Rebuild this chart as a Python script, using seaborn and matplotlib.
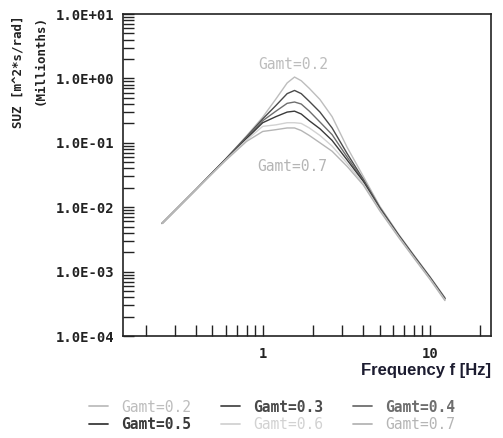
import numpy as np
import pandas as pd
import seaborn as sns
import matplotlib
matplotlib.use("Agg")
import matplotlib.pyplot as plt
from matplotlib.ticker import LogLocator, FuncFormatter, NullFormatter

# Frequency grid [Hz]
freq = [0.25, 0.4, 0.6, 0.8, 1.0, 1.2, 1.4, 1.55, 1.7, 1.9, 2.2, 2.6,
        3.2, 4.0, 5.0, 6.5, 8.0, 10.0, 12.3]

# Spectral density SUZ [m^2*s/rad] (millionths) for each damping value
suz_g02 = [0.0056, 0.019, 0.056, 0.128, 0.25, 0.48, 0.85, 1.05, 0.92, 0.70,
           0.47, 0.255, 0.085, 0.030, 0.0105, 0.0038, 0.00182, 8.4e-4, 3.95e-4]
suz_g03 = [0.0056, 0.019, 0.056, 0.124, 0.235, 0.38, 0.58, 0.65, 0.58, 0.44,
           0.30, 0.17, 0.068, 0.027, 0.0100, 0.0037, 0.00178, 8.2e-4, 3.85e-4]
suz_g04 = [0.0056, 0.019, 0.055, 0.120, 0.22, 0.31, 0.41, 0.43, 0.40, 0.31,
           0.21, 0.134, 0.060, 0.026, 0.0098, 0.0036, 0.00174, 8.1e-4, 3.8e-4]
suz_g05 = [0.0056, 0.019, 0.055, 0.116, 0.205, 0.255, 0.30, 0.31, 0.28, 0.22,
           0.165, 0.109, 0.054, 0.025, 0.0096, 0.0036, 0.00172, 8.0e-4, 3.75e-4]
suz_g06 = [0.0056, 0.019, 0.054, 0.110, 0.18, 0.19, 0.205, 0.205, 0.20, 0.17,
           0.13, 0.089, 0.048, 0.023, 0.0092, 0.0035, 0.00168, 7.8e-4, 3.65e-4]
suz_g07 = [0.0056, 0.019, 0.053, 0.105, 0.15, 0.16, 0.17, 0.17, 0.155, 0.13,
           0.10, 0.074, 0.043, 0.022, 0.0089, 0.0034, 0.00164, 7.6e-4, 3.55e-4]

series_names = ["Gamt=0.2", "Gamt=0.3", "Gamt=0.4", "Gamt=0.5", "Gamt=0.6", "Gamt=0.7"]
series_values = [suz_g02, suz_g03, suz_g04, suz_g05, suz_g06, suz_g07]

y_ticks = [1e-4, 1e-3, 1e-2, 1e-1, 1e0, 1e1]
x_tick_labels = {1.0: "1", 10.0: "10"}

colors = {
    "Gamt=0.2": "#bdbdbd",
    "Gamt=0.3": "#4a4a4a",
    "Gamt=0.4": "#6e6e6e",
    "Gamt=0.5": "#3a3a3a",
    "Gamt=0.6": "#d2d2d2",
    "Gamt=0.7": "#b5b5b5",
}
bold_entries = {"Gamt=0.3", "Gamt=0.5", "Gamt=0.4"}

df = pd.concat(
    [pd.DataFrame({"f": freq, "suz": vals, "series": name})
     for name, vals in zip(series_names, series_values)],
    ignore_index=True,
)

sns.set_style("white")
mono = ["DejaVu Sans Mono"]

fig = plt.figure(figsize=(5.03, 4.38), dpi=100)
ax = fig.add_axes([123 / 503, 1 - 336 / 438, (491 - 123) / 503, (336 - 14) / 438])

sns.lineplot(data=df, x="f", y="suz", hue="series", hue_order=series_names,
             palette=colors, linewidth=1.0, ax=ax, legend=False, sort=False)

ax.set_xscale("log")
ax.set_yscale("log")
ax.set_xlim(0.146, 23.2)
ax.set_ylim(1e-4, 1e1)

for s in ax.spines.values():
    s.set_color("#222222")
    s.set_linewidth(1.2)

ax.yaxis.set_minor_locator(LogLocator(base=10, subs=np.arange(2, 10), numticks=20))
ax.set_yticks(y_ticks)
ax.yaxis.set_major_formatter(FuncFormatter(lambda v, p: f"{v:.1E}"))
ax.yaxis.set_minor_formatter(NullFormatter())

ax.xaxis.set_major_locator(LogLocator(base=10, numticks=10))
ax.xaxis.set_minor_locator(LogLocator(base=10, subs=np.arange(2, 10), numticks=20))
ax.xaxis.set_major_formatter(FuncFormatter(lambda v, p: x_tick_labels.get(round(v, 6), "")))
ax.xaxis.set_minor_formatter(NullFormatter())

ax.tick_params(axis="both", which="both", direction="in", length=8, width=1.0,
               color="#222222", left=True, bottom=True, right=False, top=False)
ax.tick_params(axis="y", which="major", pad=6)
ax.tick_params(axis="x", which="major", pad=8)

for lab in ax.get_yticklabels() + ax.get_xticklabels():
    lab.set_family(mono)
    lab.set_fontweight("bold")
    lab.set_fontsize(10)
    lab.set_color("#222222")

ax.set_xlabel("")
ax.set_ylabel("")

# Axis titles
fig.text(18 / 503, 1 - 72 / 438, "SUZ [m^2*s/rad]", rotation=90, ha="center", va="center",
         family=mono, fontsize=9, fontweight="bold", color="#222222")
fig.text(40 / 503, 1 - 60 / 438, "(Millionths)", rotation=90, ha="center", va="center",
         family=mono, fontsize=9, fontweight="bold", color="#222222")
fig.text(491 / 503, 1 - 370 / 438, "Frequency f [Hz]", ha="right", va="center",
         family=["Liberation Sans", "DejaVu Sans"], fontweight="bold", fontsize=12,
         color="#1c1c30")

# Curve annotations
ax.text(1.52, 1.62, "Gamt=0.2", ha="center", va="center", family=mono,
        fontsize=10.5, color="#bdbdbd")
ax.text(1.50, 0.043, "Gamt=0.7", ha="center", va="center", family=mono,
        fontsize=10.5, color="#b5b5b5")

# Legend below the axes, filled row by row
order = [0, 3, 1, 4, 2, 5]
legend_handles = [plt.Line2D([], [], color=colors[series_names[i]], linewidth=1.3) for i in order]
legend_labels = [series_names[i] for i in order]
leg = fig.legend(legend_handles, legend_labels, ncol=3, loc="center",
                 bbox_to_anchor=(272 / 503, 1 - 416 / 438), frameon=False,
                 handlelength=1.35, handletextpad=0.9, columnspacing=2.0,
                 labelspacing=0.2, prop={"family": mono, "size": 10.5})
for txt, name in zip(leg.get_texts(), legend_labels):
    txt.set_color(colors[name])
    if name in bold_entries:
        txt.set_fontweight("bold")

fig.savefig("out.png", dpi=100)
